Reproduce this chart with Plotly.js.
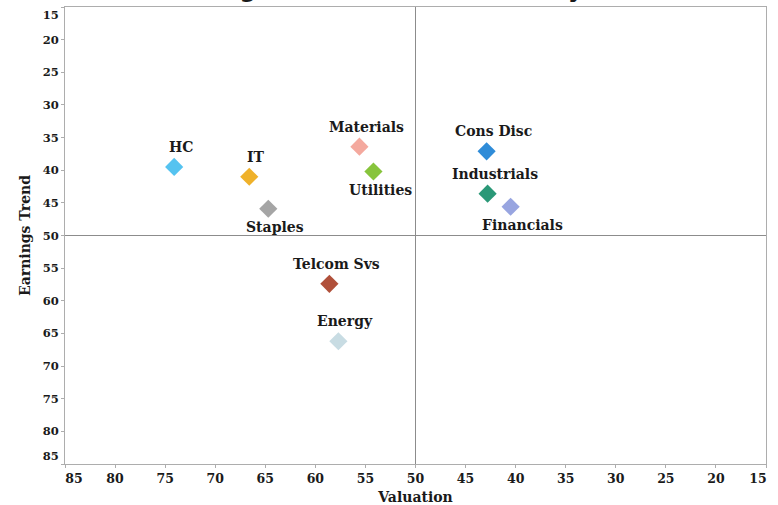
<!DOCTYPE html>
<html>
<head>
<meta charset="utf-8">
<script src="https://cdn.plot.ly/plotly-3.0.1.min.js"></script>
<style>
  html, body { margin: 0; padding: 0; background: #ffffff; }
  #chart { width: 778px; height: 505px; }
</style>
</head>
<body>
<div id="chart"></div>
<script>
// Sector positioning: valuation score (x, reversed) vs earnings trend score (y, reversed)
const sectors = ['HC', 'IT', 'Staples', 'Materials', 'Utilities', 'Cons Disc', 'Industrials', 'Financials', 'Telcom Svs', 'Energy'];
const valuation = [74.1, 66.6, 64.7, 55.6, 54.2, 42.9, 42.8, 40.5, 58.6, 57.7];
const earningsTrend = [39.5, 41.0, 45.9, 36.4, 40.2, 37.1, 43.6, 45.6, 57.4, 66.2];
const sectorColors = ['#55C3F0', '#EFB12A', '#A5A5A5', '#F4A99E', '#87C43C', '#2F8CD8', '#2A9877', '#98A5E0', '#B0503A', '#C8DCE3'];

const xTickVals = [80, 75, 70, 65, 60, 55, 50, 45, 40, 35, 30, 25, 20];
const yTickVals = [20, 25, 30, 35, 40, 45, 50, 55, 60, 65, 70, 75, 80];
const scaleMax = 85;
const scaleMin = 15;
const midpoint = 50;

// sectors whose label sits under the marker
const labelsBelow = ['Staples', 'Utilities', 'Financials'];

const textFont = { family: 'DejaVu Serif', size: 14, color: '#1a1a1a', weight: 'bold' };
const xTickFont = { family: 'DejaVu Serif', size: 12.5, color: '#1a1a1a', weight: 'bold' };
const yTickFont = { family: 'DejaVu Serif', size: 11.5, color: '#1a1a1a', weight: 'bold' };

const labelAnnotations = sectors.map((name, i) => {
  const below = labelsBelow.includes(name);
  return {
    x: valuation[i], y: earningsTrend[i], xref: 'x', yref: 'y',
    text: '<b>' + name + '</b>', showarrow: false,
    xanchor: 'center', yanchor: 'middle',
    xshift: name === 'Financials' ? 12 : 7,
    yshift: below ? -18 : 20,
    font: textFont
  };
});

// chart heading, sitting above the frame
const titleAnnotation = {
  xref: 'paper', yref: 'paper', x: 0.5, y: 1, xanchor: 'center', yanchor: 'bottom',
  yshift: 2, showarrow: false,
  text: '<b>Earnings Trend and Valuation by Sector</b>',
  font: { family: 'DejaVu Sans', size: 23.4, color: '#1a1a1a' }
};

const trace = {
  type: 'scatter', mode: 'markers',
  x: valuation, y: earningsTrend, text: sectors,
  marker: { symbol: 'diamond', size: 14, color: sectorColors, line: { width: 0 } },
  hoverinfo: 'text', cliponaxis: false
};

const axisCommon = {
  showgrid: false, zeroline: false,
  ticks: 'outside', ticklen: 3, tickcolor: '#ADADAD', tickwidth: 1,
  fixedrange: true
};

// extra axes carry only the end labels, nudged inside the frame
function endXAxis(val, shift) {
  return Object.assign({}, axisCommon, {
    overlaying: 'x', anchor: 'y', side: 'bottom', range: [scaleMax, scaleMin],
    tickmode: 'array', tickvals: [val], tickfont: xTickFont, ticklabelshift: shift,
    showline: false
  });
}
function endYAxis(val, shift) {
  return Object.assign({}, axisCommon, {
    overlaying: 'y', anchor: 'x', side: 'left', range: [scaleMax, scaleMin],
    tickmode: 'array', tickvals: [val], tickfont: yTickFont, ticklabelshift: shift,
    showline: false
  });
}

const layout = {
  width: 778, height: 505,
  margin: { l: 65, r: 12, t: 7, b: 41 },
  paper_bgcolor: '#ffffff', plot_bgcolor: '#ffffff',
  showlegend: false,
  xaxis: Object.assign({}, axisCommon, {
    range: [scaleMax, scaleMin], tickmode: 'array', tickvals: xTickVals, tickfont: xTickFont,
    showline: true, mirror: true, linecolor: '#ADADAD', linewidth: 1,
    title: { text: '<b>Valuation</b>', font: textFont, standoff: 8 }
  }),
  xaxis2: endXAxis(scaleMax, -9),
  xaxis3: endXAxis(scaleMin, 8),
  yaxis: Object.assign({}, axisCommon, {
    range: [scaleMax, scaleMin], tickmode: 'array', tickvals: yTickVals, tickfont: yTickFont,
    showline: true, mirror: true, linecolor: '#ADADAD', linewidth: 1,
    title: { text: '<b>Earnings Trend</b>', font: textFont, standoff: 8 }
  }),
  yaxis2: endYAxis(scaleMin, -8),
  yaxis3: endYAxis(scaleMax, 8),
  shapes: [
    { type: 'line', xref: 'x', yref: 'paper', x0: midpoint, x1: midpoint, y0: 0, y1: 1, line: { color: '#8C8C8C', width: 1 }, layer: 'below' },
    { type: 'line', xref: 'paper', yref: 'y', x0: 0, x1: 1, y0: midpoint, y1: midpoint, line: { color: '#8C8C8C', width: 1 }, layer: 'below' }
  ],
  annotations: [titleAnnotation].concat(labelAnnotations)
};

const anchorTraces = [
  { type: 'scatter', x: [], y: [], xaxis: 'x2', yaxis: 'y', hoverinfo: 'skip' },
  { type: 'scatter', x: [], y: [], xaxis: 'x3', yaxis: 'y', hoverinfo: 'skip' },
  { type: 'scatter', x: [], y: [], xaxis: 'x', yaxis: 'y2', hoverinfo: 'skip' },
  { type: 'scatter', x: [], y: [], xaxis: 'x', yaxis: 'y3', hoverinfo: 'skip' }
];

Plotly.newPlot('chart', anchorTraces.concat([trace]), layout, { staticPlot: true, displayModeBar: false });
</script>
</body>
</html>
